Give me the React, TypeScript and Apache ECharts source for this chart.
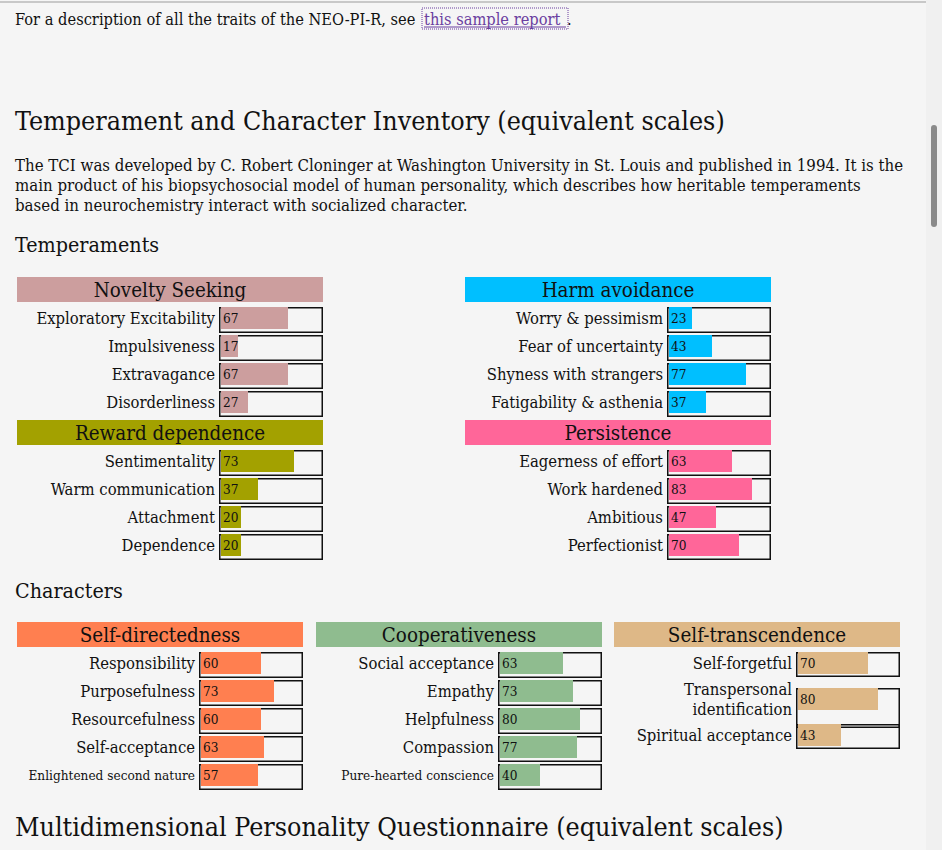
import React, { useEffect, useRef } from "react";
import * as echarts from "echarts";

const FONT = "'DejaVu Serif Condensed', 'DejaVu Serif', serif";

const nsLabels = ["Exploratory Excitability", "Impulsiveness", "Extravagance", "Disorderliness"];
const nsValues = [67, 17, 67, 27];
const haLabels = ["Worry & pessimism", "Fear of uncertainty", "Shyness with strangers", "Fatigability & asthenia"];
const haValues = [23, 43, 77, 37];
const rdLabels = ["Sentimentality", "Warm communication", "Attachment", "Dependence"];
const rdValues = [73, 37, 20, 20];
const peLabels = ["Eagerness of effort", "Work hardened", "Ambitious", "Perfectionist"];
const peValues = [63, 83, 47, 70];
const sdLabels = ["Responsibility", "Purposefulness", "Resourcefulness", "Self-acceptance", "Enlightened second nature"];
const sdValues = [60, 73, 60, 63, 57];
const coLabels = ["Social acceptance", "Empathy", "Helpfulness", "Compassion", "Pure-hearted conscience"];
const coValues = [63, 73, 80, 77, 40];
const stLabels = ["Self-forgetful", "Transpersonal\nidentification", "Spiritual acceptance"];
const stValues = [70, 80, 43];
const smallLabels = ["Enlightened second nature", "Pure-hearted conscience"];

type Group = {
  title: string; color: string; labels: string[]; values: number[];
  hx: number; hw: number; hy: number; bx: number; bw: number;
  rows: { cy: number; h: number }[];
};

const uniform = (start: number, n: number) =>
  Array.from({ length: n }, (_, i) => ({ cy: start + i * 28, h: 26 }));

const groups: Group[] = [
  { title: "Novelty Seeking", color: "#cc9e9e", labels: nsLabels, values: nsValues, hx: 17, hw: 306, hy: 277, bx: 219, bw: 104, rows: uniform(318, 4) },
  { title: "Harm avoidance", color: "#00bfff", labels: haLabels, values: haValues, hx: 465, hw: 306, hy: 277, bx: 667, bw: 104, rows: uniform(318, 4) },
  { title: "Reward dependence", color: "#a3a100", labels: rdLabels, values: rdValues, hx: 17, hw: 306, hy: 420, bx: 219, bw: 104, rows: uniform(461, 4) },
  { title: "Persistence", color: "#ff6699", labels: peLabels, values: peValues, hx: 465, hw: 306, hy: 420, bx: 667, bw: 104, rows: uniform(461, 4) },
  { title: "Self-directedness", color: "#ff7f50", labels: sdLabels, values: sdValues, hx: 17, hw: 286, hy: 622, bx: 199, bw: 104, rows: uniform(663, 5) },
  { title: "Cooperativeness", color: "#8fbc8f", labels: coLabels, values: coValues, hx: 316, hw: 286, hy: 622, bx: 498, bw: 104, rows: uniform(663, 5) },
  { title: "Self-transcendence", color: "#deb887", labels: stLabels, values: stValues, hx: 614, hw: 286, hy: 622, bx: 796, bw: 104, rows: [{ cy: 663, h: 25 }, { cy: 699, h: 40 }, { cy: 735, h: 25 }] },
];

export default function App() {
  const ref = useRef<HTMLDivElement>(null);
  useEffect(() => {
    const chart = echarts.init(ref.current!, null, { renderer: "svg" });
    const grid: any[] = [], xAxis: any[] = [], yAxis: any[] = [], series: any[] = [];
    const graphic: any[] = [
      { type: "line", shape: { x1: 0, y1: 2, x2: 926, y2: 2 }, style: { stroke: "#c8c8c8", lineWidth: 2 } },
      { type: "rect", shape: { x: 926, y: 0, width: 16, height: 850 }, style: { fill: "#f0f0f0" } },
      { type: "rect", shape: { x: 931, y: 125, width: 6, height: 102, r: 3 }, style: { fill: "#8a8a8a" } },
    ];
    const txt = (text: string, x: number, y: number, size: number, extra: any = {}) =>
      graphic.push({ type: "text", x, y, style: { text, fontSize: size, fontFamily: FONT, fill: "#111", textVerticalAlign: "middle", ...extra } });

    txt("For a description of all the traits of the NEO-PI-R, see", 15, 19, 16.3);
    txt("this sample report", 424, 19, 16.3, { fill: "#6b3fa0" });
    txt(".", 567, 19, 16.3);
    graphic.push({ type: "line", shape: { x1: 424, y1: 27, x2: 566, y2: 27 }, style: { stroke: "#6b3fa0", lineWidth: 1 } });
    graphic.push({ type: "rect", shape: { x: 422, y: 8, width: 146, height: 21 }, style: { fill: "none", stroke: "#6b3fa0", lineWidth: 1, lineDash: [1, 1] } });
    txt("Temperament and Character Inventory (equivalent scales)", 15, 120, 26.6);
    txt("The TCI was developed by C. Robert Cloninger at Washington University in St. Louis and published in 1994. It is the", 15, 165, 16.7);
    txt("main product of his biopsychosocial model of human personality, which describes how heritable temperaments", 15, 185, 16.7);
    txt("based in neurochemistry interact with socialized character.", 15, 205, 16.7);
    txt("Temperaments", 15, 244, 21.3);
    txt("Characters", 15, 590, 21.3);
    txt("Multidimensional Personality Questionnaire (equivalent scales)", 15, 826, 26.6);

    let gi = 0;
    groups.forEach((g) => {
      graphic.push({ type: "rect", shape: { x: g.hx, y: g.hy, width: g.hw, height: 25 }, style: { fill: g.color } });
      txt(g.title, g.hx + g.hw / 2, g.hy + 13, 20.4, { textAlign: "center" });
      g.labels.forEach((lab, i) => {
        const r = g.rows[i];
        const small = smallLabels.includes(lab);
        grid.push({ left: g.bx, top: r.cy - r.h / 2, width: g.bw, height: r.h, containLabel: false });
        xAxis.push({ type: "value", gridIndex: gi, min: 0, max: g.bw, show: false });
        yAxis.push({
          type: "category", gridIndex: gi, data: [lab],
          axisLine: { show: false }, axisTick: { show: false },
          axisLabel: { fontFamily: FONT, fontSize: small ? 13.5 : 16.5, color: "#111", margin: 4, align: "right", lineHeight: 20 },
        });
        series.push({
          type: "bar", xAxisIndex: gi, yAxisIndex: gi, data: [g.bw], barWidth: r.h, barGap: "-100%", clip: false, silent: true,
          itemStyle: { color: "rgba(0,0,0,0)", borderColor: "#111", borderWidth: 1.5 },
        });
        series.push({
          type: "bar", xAxisIndex: gi, yAxisIndex: gi, stack: "s" + gi, data: [2], barWidth: 22, clip: false,
          itemStyle: { color: "rgba(0,0,0,0)" },
        });
        series.push({
          type: "bar", xAxisIndex: gi, yAxisIndex: gi, stack: "s" + gi, data: [g.values[i]], barWidth: 22, clip: false,
          itemStyle: { color: g.color },
          label: { show: true, position: "insideLeft", distance: 2, fontFamily: FONT, fontSize: 13.5, color: "#111" },
        });
        gi++;
      });
    });

    chart.setOption({ animation: false, backgroundColor: "#f5f5f5", grid, xAxis, yAxis, series, graphic });
    return () => chart.dispose();
  }, []);
  return <div ref={ref} style={{ position: "absolute", left: 0, top: 0, width: 942, height: 850 }} />;
}
